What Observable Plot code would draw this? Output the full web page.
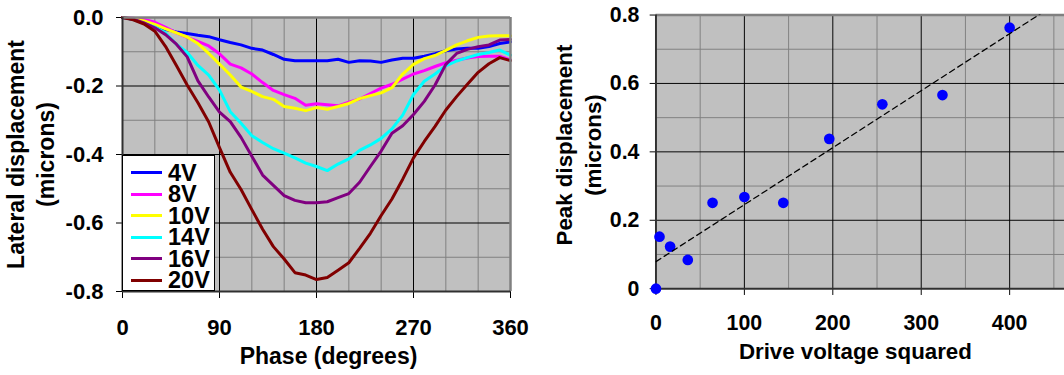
<!DOCTYPE html>
<html><head><meta charset="utf-8">
<script src="https://cdn.jsdelivr.net/npm/d3@7"></script>
<script src="https://cdn.jsdelivr.net/npm/@observablehq/plot@0.6"></script>
<style>
html,body{margin:0;padding:0;background:#fff;overflow:hidden;}
#wrap{position:relative;width:1064px;height:375px;overflow:hidden;font-family:"Liberation Sans",Arial,sans-serif;}
#left{position:absolute;left:0;top:0;}
#right{position:absolute;left:540px;top:0;}
#legend{position:absolute;left:122px;top:155px;width:93px;height:136px;background:#fff;border:1.5px solid #000;box-sizing:border-box;}
.item{position:absolute;left:8px;height:20px;display:flex;align-items:center;font-weight:bold;font-size:23.5px;line-height:20px;color:#000;}
.sw{width:31px;height:3px;margin-right:6px;}
</style></head><body>
<div id="wrap"><div id="left"></div><div id="right"></div><div id="legend"></div></div>
<script>
// ---- Left chart data ----
const phase = [0,10,20,30,40,50,60,70,80,90,100,110,120,130,140,150,160,170,180,190,200,210,220,230,240,250,260,270,280,290,300,310,320,330,340,350,360];
const v4  = [0,-0.005,-0.015,-0.025,-0.035,-0.042,-0.047,-0.052,-0.056,-0.065,-0.073,-0.080,-0.090,-0.095,-0.108,-0.122,-0.126,-0.126,-0.126,-0.126,-0.122,-0.131,-0.126,-0.127,-0.131,-0.124,-0.119,-0.119,-0.113,-0.106,-0.097,-0.092,-0.090,-0.090,-0.085,-0.076,-0.071];
const v8  = [0,-0.002,-0.006,-0.014,-0.029,-0.045,-0.058,-0.070,-0.083,-0.106,-0.136,-0.147,-0.165,-0.190,-0.213,-0.225,-0.236,-0.256,-0.252,-0.255,-0.258,-0.247,-0.238,-0.222,-0.206,-0.195,-0.180,-0.165,-0.155,-0.143,-0.132,-0.125,-0.118,-0.114,-0.113,-0.113,-0.124];
const v10 = [0,-0.004,-0.010,-0.020,-0.033,-0.045,-0.057,-0.076,-0.105,-0.136,-0.168,-0.203,-0.216,-0.231,-0.239,-0.260,-0.265,-0.272,-0.263,-0.268,-0.260,-0.251,-0.237,-0.228,-0.220,-0.205,-0.165,-0.137,-0.120,-0.111,-0.096,-0.080,-0.068,-0.058,-0.054,-0.053,-0.053];
const v14 = [0,-0.006,-0.017,-0.028,-0.045,-0.078,-0.102,-0.140,-0.168,-0.212,-0.275,-0.309,-0.345,-0.365,-0.383,-0.396,-0.410,-0.425,-0.435,-0.447,-0.428,-0.413,-0.388,-0.372,-0.353,-0.325,-0.285,-0.225,-0.186,-0.165,-0.141,-0.127,-0.117,-0.108,-0.102,-0.095,-0.110];
const v16 = [0,-0.005,-0.016,-0.030,-0.050,-0.078,-0.115,-0.185,-0.232,-0.276,-0.304,-0.350,-0.405,-0.460,-0.490,-0.520,-0.534,-0.541,-0.541,-0.538,-0.526,-0.514,-0.481,-0.435,-0.390,-0.338,-0.316,-0.283,-0.245,-0.197,-0.137,-0.105,-0.093,-0.085,-0.080,-0.066,-0.064];
const v20 = [0,-0.007,-0.019,-0.040,-0.085,-0.140,-0.197,-0.249,-0.305,-0.380,-0.452,-0.502,-0.561,-0.618,-0.669,-0.705,-0.745,-0.752,-0.765,-0.759,-0.738,-0.716,-0.674,-0.630,-0.578,-0.530,-0.472,-0.410,-0.362,-0.318,-0.270,-0.231,-0.195,-0.160,-0.135,-0.117,-0.126];
const seriesNames  = ["4V","8V","10V","14V","16V","20V"];
const seriesColors = ["#0000FF","#FF00FF","#FFFF00","#00FFFF","#800080","#800000"];
const seriesValues = [v4, v8, v10, v14, v16, v20];
const phaseTicks = [0,90,180,270,360];
const phaseMinor = [30,60,120,150,210,240,300,330];
const dispTicks  = [0,-0.2,-0.4,-0.6,-0.8];
const dispMinor  = [-0.1,-0.3,-0.5,-0.7];

// ---- Right chart data ----
const voltSq = [0,4,16,36,64,100,144,196,256,324,400];
const peak   = [0,0.152,0.123,0.084,0.251,0.268,0.251,0.438,0.539,0.566,0.763];
const vsqTicks  = [0,100,200,300,400];
const vsqMinor  = [50,150,250,350,450];
const peakTicks = [0,0.2,0.4,0.6,0.8];
const peakMinor = [0.1,0.3,0.5,0.7];

const FONT = '"Liberation Sans", Arial, sans-serif';
const style = {fontFamily: FONT, fontWeight: "bold", fontSize: "22px", color: "#000", background: "transparent", overflow: "visible"};

const rows = seriesNames.flatMap((s, k) => phase.map((p, i) => ({phase: p, value: seriesValues[k][i], series: s})));

const left = Plot.plot({
  width: 540, height: 375,
  marginLeft: 122, marginRight: 30, marginTop: 17, marginBottom: 84,
  style,
  x: {domain: [0, 360], ticks: phaseTicks, tickSize: 7, tickPadding: 21, label: null},
  y: {domain: [-0.8, 0], ticks: dispTicks, tickSize: 6, tickPadding: 13, tickFormat: d => d.toFixed(1), label: null},
  color: {domain: seriesNames, range: seriesColors},
  marks: [
    Plot.frame({fill: "#C0C0C0", stroke: "none"}),
    Plot.ruleX(phaseMinor, {stroke: "#808080", strokeWidth: 1}),
    Plot.ruleY(dispMinor, {stroke: "#808080", strokeWidth: 1}),
    Plot.ruleX(phaseTicks.filter(d => d > 0 && d < 360), {stroke: "#000", strokeWidth: 1}),
    Plot.ruleY(dispTicks.filter(d => d < 0 && d > -0.8), {stroke: "#000", strokeWidth: 1}),
    Plot.line(rows, {x: "phase", y: "value", z: "series", stroke: "series", strokeWidth: 3}),
    Plot.ruleY([0], {stroke: "#808080", strokeWidth: 2.5}),
    Plot.ruleX([360], {stroke: "#808080", strokeWidth: 2.5}),
    Plot.ruleX([0], {stroke: "#303030", strokeWidth: 2}),
    Plot.ruleY([-0.8], {stroke: "#303030", strokeWidth: 2}),
    Plot.text(["Lateral displacement\n(microns)"], {frameAnchor: "left", textAnchor: "middle", rotate: -90, dx: -93, dy: 0, lineAnchor: "middle", lineHeight: 1.3, fontSize: 23, fontWeight: "bold", fill: "#000"}),
    Plot.text(["Phase (degrees)"], {frameAnchor: "bottom", dy: 65, dx: 12, lineAnchor: "middle", fontSize: 23, fontWeight: "bold", fill: "#000"})
  ]
});
document.getElementById("left").appendChild(left);

// legend
const lg = document.getElementById("legend");
seriesNames.forEach((s, i) => {
  const it = document.createElement("div");
  it.className = "item";
  it.style.top = (6.5 + i * 21.5) + "px";
  const sw = document.createElement("div");
  sw.className = "sw";
  sw.style.background = seriesColors[i];
  it.appendChild(sw);
  it.appendChild(document.createTextNode(s));
  lg.appendChild(it);
});

// regression from data
const pts = voltSq.map((x, i) => ({x, y: peak[i]}));
const mx = d3.mean(voltSq), my = d3.mean(peak);
const slope = d3.sum(pts, d => (d.x - mx) * (d.y - my)) / d3.sum(pts, d => (d.x - mx) ** 2);
const icpt = my - slope * mx;
const xMax = 462;
const fit = [0, xMax].map(x => ({x, y: icpt + slope * x}));

const right = Plot.plot({
  width: 540, height: 375,
  marginLeft: 119, marginRight: 0, marginTop: 15, marginBottom: 78,
  style,
  x: {domain: [0, xMax], ticks: vsqTicks, tickSize: 7, tickPadding: 20, label: null},
  y: {domain: [0, 0.8], ticks: peakTicks, tickSize: 6, tickPadding: 11, tickFormat: d => d === 0 ? "0" : d.toFixed(1), label: null},
  marks: [
    Plot.frame({fill: "#C0C0C0", stroke: "none"}),
    Plot.ruleX(vsqMinor, {stroke: "#808080", strokeWidth: 1}),
    Plot.ruleY(peakMinor, {stroke: "#808080", strokeWidth: 1}),
    Plot.ruleX(vsqTicks.filter(d => d > 0), {stroke: "#000", strokeWidth: 1}),
    Plot.ruleY(peakTicks.filter(d => d > 0 && d < 0.8), {stroke: "#000", strokeWidth: 1}),
    Plot.ruleY([0.8], {stroke: "#808080", strokeWidth: 2.5}),
    Plot.ruleX([0], {stroke: "#303030", strokeWidth: 2}),
    Plot.ruleY([0], {stroke: "#303030", strokeWidth: 2}),
    Plot.dot(pts, {x: "x", y: "y", r: 5.5, fill: "#0000FF", stroke: "none"}),
    Plot.line(fit, {x: "x", y: "y", stroke: "#000", strokeWidth: 1.3, strokeDasharray: "6,4", clip: true}),
    Plot.text(["Peak displacement\n(microns)"], {frameAnchor: "left", textAnchor: "middle", rotate: -90, dx: -81, dy: -7, lineAnchor: "middle", lineHeight: 1.3, fontSize: 23, fontWeight: "bold", fill: "#000"}),
    Plot.text(["Drive voltage squared"], {frameAnchor: "bottom", dy: 65, dx: -5, lineAnchor: "middle", fontSize: 23, fontWeight: "bold", fill: "#000"})
  ]
});
document.getElementById("right").appendChild(right);
</script></body></html>
